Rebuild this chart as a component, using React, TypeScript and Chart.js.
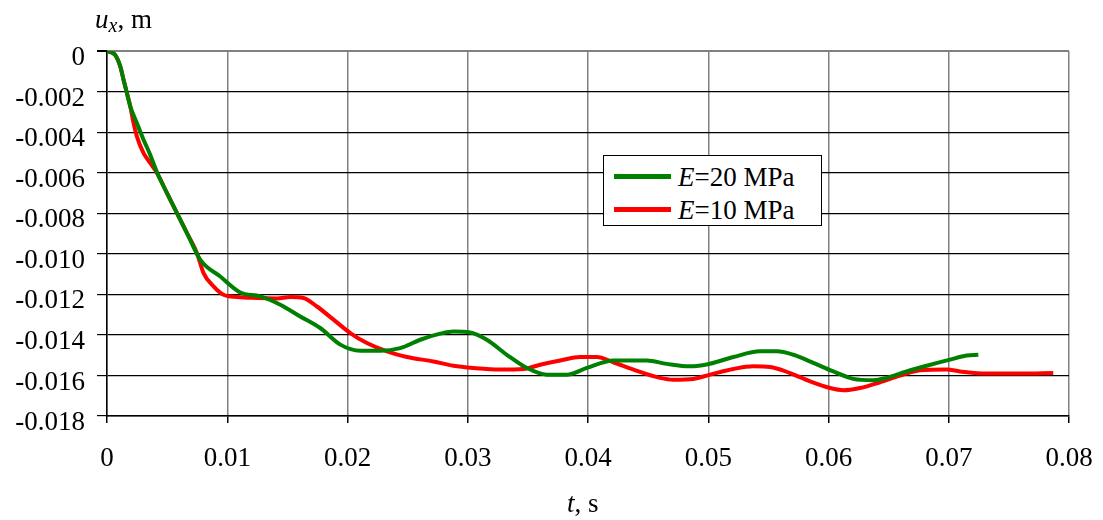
import React, { useEffect, useRef } from "react";
import { Chart, registerables } from "chart.js";

Chart.register(...registerables);

const xTicks = [0, 0.01, 0.02, 0.03, 0.04, 0.05, 0.06, 0.07, 0.08];
const xTickLabels = ["0", "0.01", "0.02", "0.03", "0.04", "0.05", "0.06", "0.07", "0.08"];
const yTicks = [0, -0.002, -0.004, -0.006, -0.008, -0.01, -0.012, -0.014, -0.016, -0.018];
const yTickLabels = ["0", "-0.002", "-0.004", "-0.006", "-0.008", "-0.010", "-0.012", "-0.014", "-0.016", "-0.018"];

const seriesNames = ["=20 MPa", "=10 MPa"];
const seriesColors = ["#008000", "#ff0000"];

const tGreen = [0, 0.00069, 0.00111, 0.00138, 0.00166, 0.00194, 0.00249, 0.00304, 0.00354, 0.00418, 0.00499, 0.00582, 0.00665, 0.00776, 0.00942, 0.01108, 0.01274, 0.01441, 0.01607, 0.01773, 0.0194, 0.02106, 0.02272, 0.02438, 0.02605, 0.02771, 0.02881, 0.0302, 0.03159, 0.03325, 0.03491, 0.03658, 0.03824, 0.0399, 0.04211, 0.04489, 0.04655, 0.04849, 0.05015, 0.05209, 0.05431, 0.0557, 0.05708, 0.05874, 0.0604, 0.06206, 0.06373, 0.06484, 0.0665, 0.06817, 0.0701, 0.07149, 0.07246];
const uGreen = [0, -0.0002, -0.00077, -0.00143, -0.00208, -0.00274, -0.00356, -0.00438, -0.00504, -0.00602, -0.00701, -0.008, -0.00898, -0.0103, -0.01112, -0.01191, -0.0121, -0.01251, -0.01309, -0.01366, -0.01448, -0.01478, -0.01478, -0.01465, -0.01424, -0.01394, -0.01383, -0.01388, -0.01424, -0.01498, -0.01563, -0.01596, -0.01596, -0.01563, -0.01526, -0.01526, -0.01543, -0.01555, -0.01542, -0.01509, -0.01481, -0.01481, -0.01498, -0.01538, -0.0158, -0.01617, -0.01624, -0.01612, -0.0158, -0.01552, -0.01522, -0.01502, -0.01498];

const tRed = [0, 0.00069, 0.00111, 0.00138, 0.00166, 0.00194, 0.00221, 0.00249, 0.00304, 0.0036, 0.00416, 0.00499, 0.00582, 0.00665, 0.00748, 0.00803, 0.00886, 0.00969, 0.01081, 0.01247, 0.01413, 0.01524, 0.01634, 0.01746, 0.01884, 0.02023, 0.02161, 0.02328, 0.02494, 0.02715, 0.02881, 0.03048, 0.0327, 0.03463, 0.03602, 0.03768, 0.03934, 0.04073, 0.04211, 0.04378, 0.046, 0.0471, 0.04876, 0.05015, 0.05209, 0.05375, 0.05514, 0.0568, 0.05847, 0.06013, 0.06123, 0.06262, 0.06428, 0.06594, 0.06761, 0.06983, 0.07093, 0.07315, 0.07592, 0.07869];
const uRed = [0, -0.0002, -0.00077, -0.00143, -0.00208, -0.00274, -0.00356, -0.00422, -0.00504, -0.00553, -0.00602, -0.00701, -0.008, -0.00898, -0.00997, -0.01095, -0.01161, -0.01202, -0.01213, -0.01218, -0.0122, -0.01213, -0.01218, -0.0126, -0.01325, -0.01391, -0.0144, -0.01481, -0.01509, -0.01531, -0.01552, -0.01563, -0.01571, -0.01568, -0.01547, -0.01526, -0.01509, -0.01509, -0.01535, -0.01571, -0.01612, -0.01621, -0.01617, -0.01596, -0.01568, -0.01555, -0.01558, -0.01588, -0.01629, -0.01662, -0.01673, -0.01662, -0.01634, -0.01601, -0.01575, -0.01571, -0.0158, -0.01591, -0.01591, -0.01588];

const FONT = "'Liberation Serif', 'Times New Roman', serif";

const labelFor = (ticks: number[], labels: string[], v: number) => {
  const i = ticks.findIndex((t) => Math.abs(t - v) < 1e-9);
  return i >= 0 ? labels[i] : "";
};

export default function App() {
  const ref = useRef<HTMLCanvasElement | null>(null);

  useEffect(() => {
    document.body.style.margin = "0";
    if (!ref.current) return;
    const chart = new Chart(ref.current, {
      type: "line",
      data: {
        datasets: [
          {
            label: "E" + seriesNames[0],
            data: tGreen.map((t, i) => ({ x: t, y: uGreen[i] })),
            borderColor: seriesColors[0],
            backgroundColor: seriesColors[0],
            borderWidth: 4,
            pointRadius: 0,
            cubicInterpolationMode: "monotone",
            fill: false,
          },
          {
            label: "E" + seriesNames[1],
            data: tRed.map((t, i) => ({ x: t, y: uRed[i] })),
            borderColor: seriesColors[1],
            backgroundColor: seriesColors[1],
            borderWidth: 4,
            pointRadius: 0,
            cubicInterpolationMode: "monotone",
            fill: false,
          },
        ],
      },
      options: {
        animation: false,
        responsive: false,
        maintainAspectRatio: false,
        layout: { padding: { top: 51, right: 34, left: 0, bottom: 0 } },
        plugins: { legend: { display: false }, tooltip: { enabled: false } },
        scales: {
          x: {
            type: "linear",
            min: 0,
            max: 0.08,
            afterBuildTicks: (s: any) => {
              s.ticks = xTicks.map((v) => ({ value: v }));
            },
            afterFit: (s: any) => {
              s.height = 104;
              s.paddingLeft = 0;
              s.paddingRight = 0;
            },
            grid: {
              color: "#808080",
              lineWidth: 1.5,
              tickLength: 7,
              tickColor: "#000",
              drawTicks: true,
            },
            border: { color: "#000", width: 1.5 },
            ticks: {
              color: "#000",
              font: { family: FONT, size: 27 },
              padding: 20,
              maxRotation: 0,
              autoSkip: false,
              callback: (v: any) => labelFor(xTicks, xTickLabels, Number(v)),
            },
          },
          y: {
            type: "linear",
            min: -0.018,
            max: 0,
            afterBuildTicks: (s: any) => {
              s.ticks = yTicks.map((v) => ({ value: v }));
            },
            afterFit: (s: any) => {
              s.width = 107;
              s.paddingTop = 0;
              s.paddingBottom = 0;
            },
            grid: {
              color: (c: any) => (c.tick && c.tick.value === 0 ? "#808080" : "#000"),
              lineWidth: (c: any) => (c.tick && c.tick.value === 0 ? 2 : 1.2),
              tickLength: 10,
              tickColor: "#000",
            },
            border: { color: "#000", width: 1.5 },
            ticks: {
              color: "#000",
              font: { family: FONT, size: 27 },
              padding: 12,
              labelOffset: 7,
              autoSkip: false,
              callback: (v: any) => labelFor(yTicks, yTickLabels, Number(v)),
            },
          },
        },
      },
    });
    return () => chart.destroy();
  }, []);

  const textStyle: React.CSSProperties = {
    position: "absolute",
    fontFamily: FONT,
    fontSize: 27,
    lineHeight: 1,
    color: "#000",
    whiteSpace: "nowrap",
  };

  return (
    <div style={{ position: "absolute", left: 0, top: 0, width: 1103, height: 520, background: "#fff", overflow: "hidden" }}>
      <canvas ref={ref} width={1103} height={520} style={{ position: "absolute", left: 0, top: 0 }} />
      <div style={{ ...textStyle, left: 95, top: 6 }}>
        <i>u</i>
        <sub style={{ fontSize: 20, verticalAlign: "-4px" }}>
          <i>x</i>
        </sub>
        , m
      </div>
      <div style={{ ...textStyle, left: 567, top: 490 }}>
        <i>t</i>, s
      </div>
      <div
        style={{
          position: "absolute",
          left: 603,
          top: 155,
          width: 217,
          height: 69,
          border: "1.5px solid #000",
          background: "#fff",
        }}
      >
        {seriesNames.map((n, i) => (
          <div key={i} style={{ position: "absolute", left: 10, top: 4 + i * 33, height: 30, width: 210 }}>
            <div
              style={{
                position: "absolute",
                left: 0,
                top: 14,
                width: 57,
                height: 5,
                background: seriesColors[i],
              }}
            />
            <div style={{ ...textStyle, left: 64, top: 4 }}>
              <i>E</i>
              {n}
            </div>
          </div>
        ))}
      </div>
    </div>
  );
}
